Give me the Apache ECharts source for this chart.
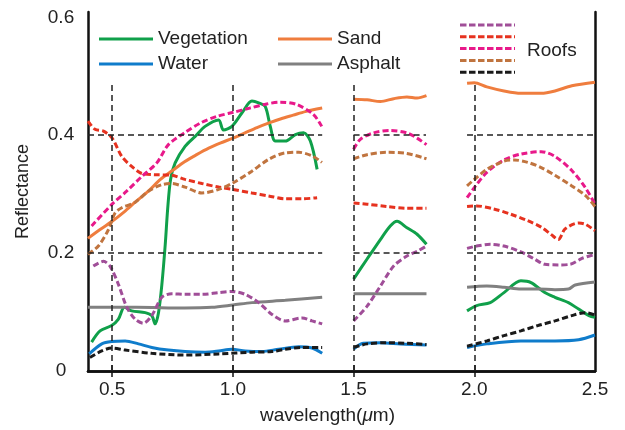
<!DOCTYPE html>
<html>
<head>
<meta charset="utf-8">
<script src="https://cdn.jsdelivr.net/npm/echarts@6/dist/echarts.min.js"></script>
<style>
html,body{margin:0;padding:0;background:#fff;}
#chart{width:625px;height:430px;}
</style>
</head>
<body>
<div id="chart"></div>
<script>
// ---- tick labels / grid positions (data space) ----
const wavelengthTicks = [0.5, 1.0, 1.5, 2.0, 2.5];
const wavelengthGridLines = [0.5, 1.0, 1.5, 2.0];
const reflectanceTicks = [0, 0.2, 0.4, 0.6];
const reflectanceGridLines = [0.2, 0.4];
const measuredSpans = [[0.4, 1.37], [1.5, 1.8], [1.97, 2.5]];
const roofNames = ['Roof 1', 'Roof 2', 'Roof 3', 'Roof 4', 'Roof 5'];

// ---- series values: [wavelength (um), reflectance], three measured bands each ----
const vegetation = [
  [[0.415,0.049],[0.45,0.068],[0.498,0.077],[0.526,0.088],[0.551,0.108],[0.581,0.102],[0.637,0.099],[0.664,0.094],[0.678,0.080],[0.692,0.099],[0.706,0.147],[0.72,0.215],[0.73,0.275],[0.742,0.325],[0.761,0.353],[0.802,0.381],[0.844,0.398],[0.885,0.415],[0.941,0.426],[0.961,0.409],[0.996,0.415],[1.038,0.438],[1.079,0.458],[1.107,0.455],[1.134,0.449],[1.155,0.415],[1.176,0.39],[1.217,0.39],[1.259,0.401],[1.293,0.404],[1.321,0.39],[1.349,0.342]],
  [[1.50,0.156],[1.556,0.19],[1.611,0.223],[1.652,0.246],[1.68,0.254],[1.721,0.243],[1.763,0.232],[1.802,0.215]],
  [[1.97,0.102],[2.01,0.111],[2.066,0.116],[2.123,0.133],[2.193,0.153],[2.235,0.150],[2.292,0.133],[2.334,0.125],[2.39,0.116],[2.432,0.105],[2.475,0.094],[2.5,0.091]]
];
const water = [
  [[0.405,0.029],[0.457,0.046],[0.498,0.05],[0.554,0.051],[0.609,0.046],[0.664,0.04],[0.733,0.0355],[0.802,0.033],[0.885,0.032],[0.941,0.034],[0.996,0.037],[1.051,0.034],[1.121,0.033],[1.19,0.037],[1.273,0.041],[1.328,0.039],[1.37,0.03]],
  [[1.50,0.037],[1.54,0.047],[1.611,0.048],[1.694,0.046],[1.802,0.044]],
  [[1.97,0.04],[2.052,0.046],[2.193,0.051],[2.334,0.051],[2.432,0.053],[2.5,0.061]]
];
const sand = [
  [[0.40,0.225],[0.45,0.24],[0.50,0.254],[0.55,0.27],[0.60,0.288],[0.65,0.305],[0.70,0.325],[0.75,0.34],[0.80,0.355],[0.85,0.367],[0.90,0.378],[0.95,0.387],[1.00,0.395],[1.05,0.404],[1.10,0.413],[1.15,0.421],[1.20,0.428],[1.25,0.434],[1.30,0.44],[1.37,0.446]],
  [[1.50,0.461],[1.556,0.46],[1.611,0.457],[1.666,0.462],[1.721,0.465],[1.763,0.463],[1.802,0.467]],
  [[1.97,0.488],[2.0,0.489],[2.052,0.482],[2.123,0.475],[2.193,0.471],[2.277,0.471],[2.334,0.475],[2.404,0.484],[2.5,0.49]]
];
const asphalt = [
  [[0.40,0.108],[0.6,0.108],[0.8,0.107],[0.913,0.108],[1.0,0.112],[1.079,0.116],[1.217,0.12],[1.37,0.125]],
  [[1.50,0.131],[1.65,0.131],[1.802,0.131]],
  [[1.97,0.142],[2.052,0.144],[2.123,0.142],[2.193,0.139],[2.263,0.139],[2.334,0.138],[2.39,0.139],[2.418,0.146],[2.5,0.151]]
];
const roof1 = [
  [[0.422,0.178],[0.464,0.186],[0.491,0.178],[0.526,0.147],[0.561,0.108],[0.595,0.088],[0.629,0.081],[0.664,0.094],[0.706,0.125],[0.747,0.131],[0.802,0.13],[0.872,0.13],[0.941,0.133],[0.996,0.135],[1.051,0.13],[1.107,0.116],[1.162,0.096],[1.217,0.085],[1.287,0.09],[1.328,0.085],[1.37,0.08]],
  [[1.50,0.085],[1.556,0.11],[1.611,0.144],[1.666,0.178],[1.721,0.195],[1.763,0.203],[1.802,0.212]],
  [[1.97,0.208],[2.01,0.212],[2.066,0.215],[2.123,0.212],[2.193,0.202],[2.249,0.19],[2.292,0.181],[2.348,0.18],[2.397,0.181],[2.446,0.191],[2.5,0.198]]
];
const roof2 = [
  [[0.40,0.424],[0.429,0.41],[0.464,0.407],[0.50,0.395],[0.54,0.364],[0.581,0.347],[0.623,0.335],[0.678,0.333],[0.747,0.332],[0.802,0.325],[0.872,0.318],[0.941,0.312],[1.0,0.308],[1.079,0.302],[1.148,0.297],[1.217,0.292],[1.287,0.292],[1.349,0.294]],
  [[1.50,0.285],[1.556,0.283],[1.638,0.279],[1.721,0.276],[1.802,0.276]],
  [[1.97,0.279],[2.01,0.28],[2.08,0.275],[2.151,0.266],[2.221,0.255],[2.277,0.244],[2.32,0.231],[2.348,0.223],[2.376,0.241],[2.432,0.251],[2.46,0.249],[2.5,0.238]]
];
const roof3 = [
  [[0.415,0.246],[0.5,0.283],[0.56,0.305],[0.623,0.33],[0.685,0.353],[0.733,0.384],[0.80,0.404],[0.867,0.421],[0.935,0.432],[1.004,0.439],[1.07,0.446],[1.14,0.453],[1.196,0.456],[1.265,0.452],[1.334,0.435],[1.368,0.415]],
  [[1.50,0.376],[1.528,0.393],[1.583,0.404],[1.652,0.408],[1.721,0.404],[1.763,0.395],[1.802,0.384]],
  [[1.97,0.294],[2.0,0.311],[2.052,0.337],[2.123,0.358],[2.193,0.368],[2.277,0.372],[2.334,0.364],[2.404,0.34],[2.46,0.311],[2.5,0.283]]
];
const roof4 = [
  [[0.40,0.198],[0.443,0.212],[0.485,0.24],[0.512,0.268],[0.54,0.277],[0.595,0.286],[0.65,0.305],[0.705,0.316],[0.747,0.318],[0.802,0.312],[0.872,0.302],[0.941,0.308],[1.0,0.319],[1.079,0.339],[1.148,0.359],[1.217,0.37],[1.273,0.371],[1.328,0.365],[1.369,0.354]],
  [[1.50,0.36],[1.556,0.367],[1.638,0.371],[1.721,0.369],[1.802,0.36]],
  [[1.97,0.314],[2.0,0.325],[2.052,0.342],[2.123,0.356],[2.165,0.358],[2.221,0.354],[2.277,0.345],[2.334,0.332],[2.404,0.314],[2.46,0.298],[2.5,0.279]]
];
const roof5 = [
  [[0.408,0.023],[0.457,0.034],[0.498,0.039],[0.554,0.0355],[0.664,0.03],[0.802,0.027],[0.941,0.029],[1.079,0.032],[1.162,0.033],[1.217,0.037],[1.287,0.04],[1.37,0.04]],
  [[1.50,0.04],[1.556,0.046],[1.638,0.048],[1.721,0.047],[1.802,0.045]],
  [[1.97,0.042],[2.052,0.051],[2.123,0.06],[2.193,0.068],[2.263,0.077],[2.334,0.085],[2.404,0.094],[2.46,0.099],[2.5,0.095]]
];

// ---- build ----
const FONT = '"Liberation Sans", Arial, sans-serif';
function joinBands(bands) {
  const out = [];
  bands.forEach((b, i) => {
    if (i > 0) out.push([(bands[i-1][bands[i-1].length-1][0] + b[0][0]) / 2, '-']);
    b.forEach(p => out.push(p));
  });
  return out;
}
function solid(name, bands, color) {
  return { name, type: 'line', data: joinBands(bands), showSymbol: false, symbol: 'none',
    smooth: 0.3, connectNulls: false, color, itemStyle: { color },
    lineStyle: { color, width: 3 }, z: 3, silent: true };
}
function dashed(name, bands, color) {
  return { name, type: 'line', data: joinBands(bands), showSymbol: false, symbol: 'none',
    smooth: 0.3, connectNulls: false, color, itemStyle: { color },
    lineStyle: { color, width: 3, type: [6, 3] }, z: 3, silent: true };
}

// legend icons: a solid bar and a dashed bar
const solidIcon = 'path://M0 0H54V3H0Z';
let dashPath = '';
for (let x = 0; x < 55; x += 9) {
  const e = Math.min(x + 6.5, 55);
  dashPath += 'M' + x + ' 0H' + e + 'V3H' + x + 'Z';
}
const dashIcon = 'path://' + dashPath;

const gridLineData = [];
wavelengthGridLines.forEach(x => gridLineData.push([{ coord: [x, 0] }, { coord: [x, 0.49] }]));
reflectanceGridLines.forEach(y => measuredSpans.forEach(s =>
  gridLineData.push([{ coord: [s[0], y] }, { coord: [s[1], y] }])));

const isTick = v => reflectanceTicks.some(t => Math.abs(t - v) < 1e-6);

const legendText = { fontFamily: FONT, fontSize: 19, color: '#222', lineHeight: 20 };
const legends = [{
  data: ['Vegetation', 'Water'], orient: 'vertical', left: 99, top: 29, padding: 0,
  icon: solidIcon, itemWidth: 54, itemHeight: 3, itemGap: 5,
  textStyle: legendText, selectedMode: false
}, {
  data: ['Sand', 'Asphalt'], orient: 'vertical', left: 278, top: 29, padding: 0,
  icon: solidIcon, itemWidth: 54, itemHeight: 3, itemGap: 5,
  textStyle: legendText, selectedMode: false
}];
roofNames.forEach((n, i) => legends.push({
  data: [n], left: 460, top: 23.5 + i * 11.8, padding: 0,
  icon: dashIcon, itemWidth: 55, itemHeight: 3, formatter: () => '',
  textStyle: { fontSize: 3, lineHeight: 3 }, selectedMode: false
}));

const option = {
  animation: false,
  backgroundColor: '#fff',
  grid: { left: 88, right: 30, top: 12, bottom: 58 },
  xAxis: [{
    type: 'value', min: 0.4, max: 2.5, position: 'bottom',
    axisLine: { show: true, lineStyle: { color: '#111', width: 2.5 } },
    axisTick: { show: true, inside: true, length: 6, customValues: wavelengthGridLines, lineStyle: { color: '#111', width: 1.5 } },
    axisLabel: { customValues: wavelengthTicks, formatter: v => v.toFixed(1), margin: 9,
      fontFamily: FONT, fontSize: 19, color: '#222' },
    splitLine: { show: false },
    name: 'wavelength({i|μ}m)', nameLocation: 'middle', nameGap: 35,
    nameTextStyle: { fontFamily: FONT, fontSize: 19, color: '#222', padding: [0, 28, 0, 0],
      rich: { i: { fontFamily: FONT, fontSize: 19, fontStyle: 'italic', color: '#222' } } }
  }, {
    type: 'value', min: 0.4, max: 2.5, position: 'top',
    axisLine: { show: true, lineStyle: { color: '#111', width: 2.5 } },
    axisTick: { show: true, inside: true, length: 6, customValues: wavelengthGridLines, lineStyle: { color: '#111', width: 1.5 } },
    axisLabel: { show: false }, splitLine: { show: false }
  }],
  yAxis: [{
    type: 'value', min: 0, max: 0.609, interval: 0.2, position: 'left',
    axisLine: { show: true, lineStyle: { color: '#111', width: 2.5 } },
    axisTick: { show: false },
    axisLabel: { formatter: v => isTick(v) ? (v === 0 ? '0' : v.toFixed(1)) : '',
      align: 'center', margin: 27, fontFamily: FONT, fontSize: 19, color: '#222' },
    splitLine: { show: false },
    name: 'Reflectance', nameLocation: 'middle', nameGap: 56, nameRotate: 90,
    nameTextStyle: { fontFamily: FONT, fontSize: 18, color: '#222' }
  }, {
    type: 'value', min: 0, max: 0.609, interval: 0.2, position: 'right',
    axisLine: { show: true, lineStyle: { color: '#111', width: 2.5 } },
    axisTick: { show: false }, axisLabel: { show: false }, splitLine: { show: false }
  }],
  legend: legends,
  graphic: [{
    type: 'text', left: 527, top: 41,
    style: { text: 'Roofs', fontFamily: FONT, fontSize: 19, fill: '#222' }
  }],
  series: [
    { name: 'gridlines', type: 'line', data: [], silent: true, z: 1,
      markLine: { silent: true, symbol: 'none', label: { show: false }, animation: false,
        lineStyle: { color: '#222', width: 1.5, type: [6, 4] }, data: gridLineData } },
    solid('Vegetation', vegetation, '#10a04a'),
    solid('Water', water, '#0f7ccb'),
    solid('Sand', sand, '#ef7d3e'),
    solid('Asphalt', asphalt, '#808080'),
    dashed('Roof 1', roof1, '#a04e98'),
    dashed('Roof 2', roof2, '#e6321f'),
    dashed('Roof 3', roof3, '#e8198a'),
    dashed('Roof 4', roof4, '#c0743f'),
    dashed('Roof 5', roof5, '#1a1a1a')
  ]
};
const chart = echarts.init(document.getElementById('chart'), null, { renderer: 'canvas' });
chart.setOption(option);
</script>
</body>
</html>
